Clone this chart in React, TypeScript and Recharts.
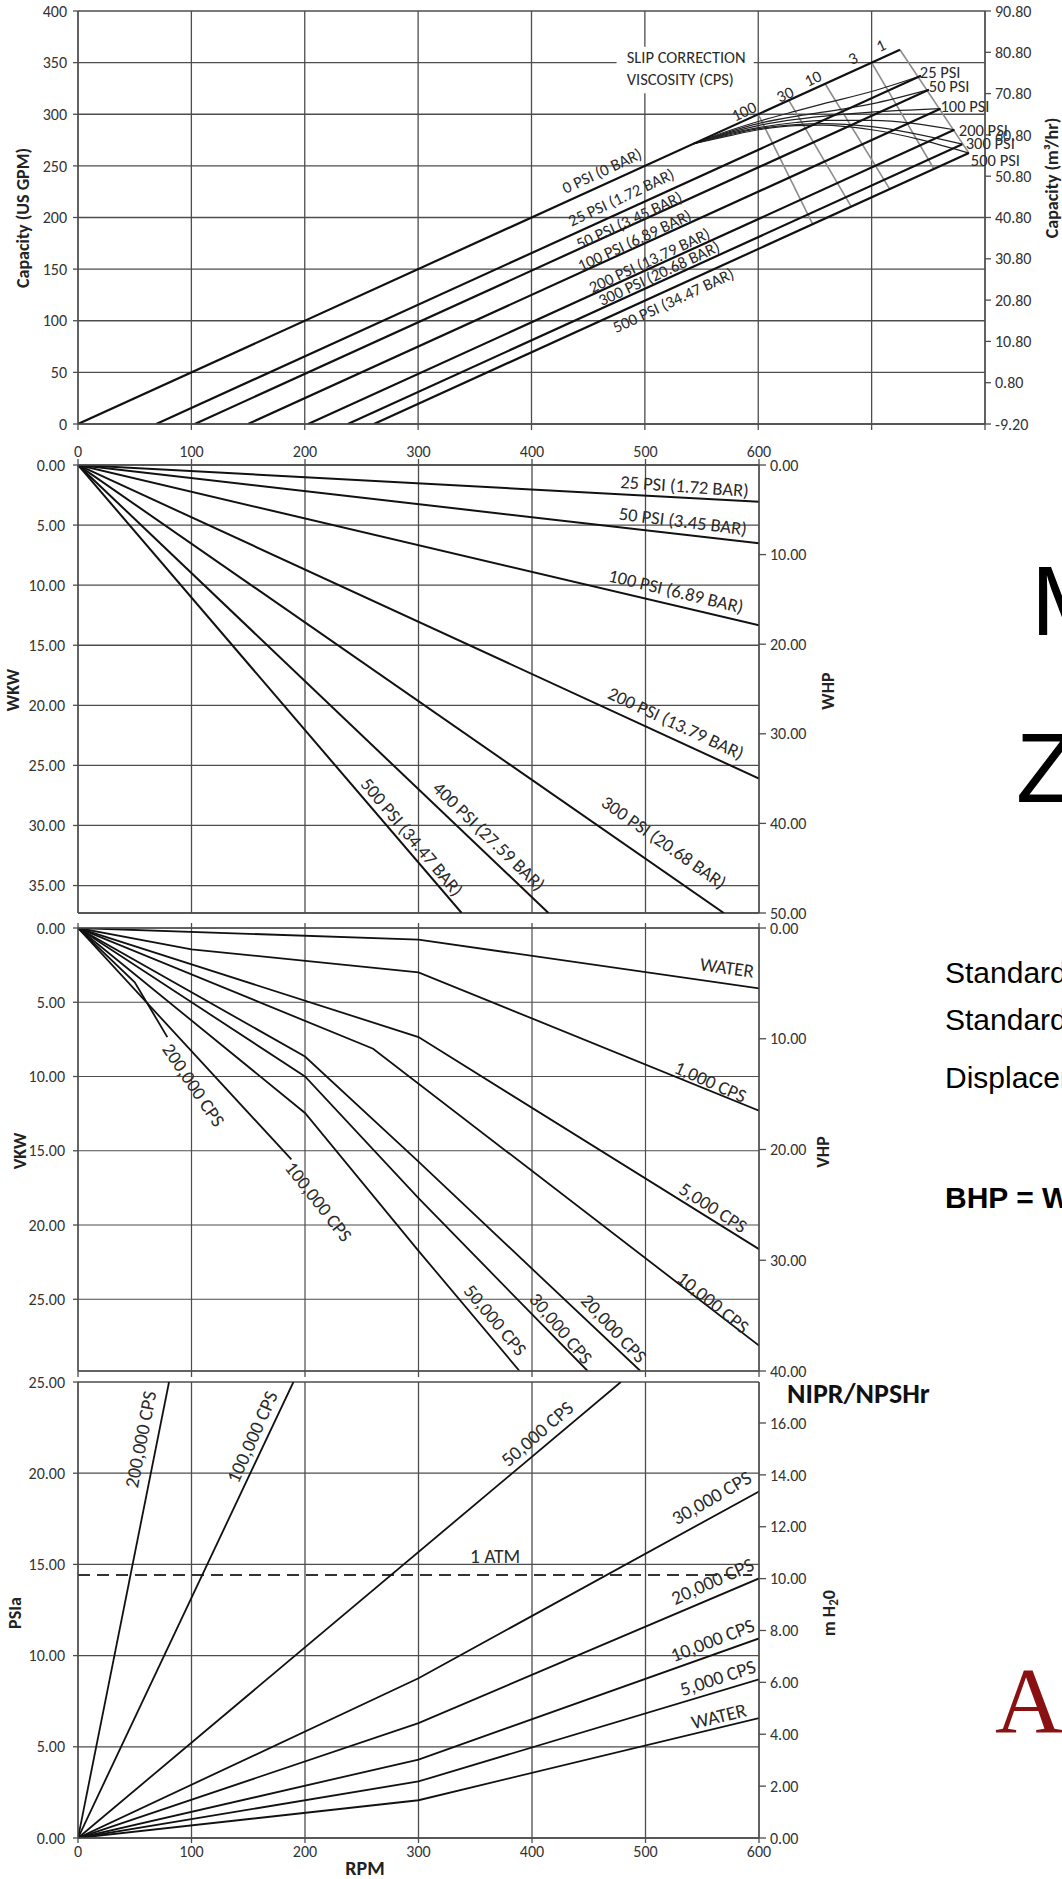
import React from 'react';
import { LineChart, Line, XAxis, YAxis, CartesianGrid, ReferenceDot, ReferenceArea, ReferenceLine } from 'recharts';

const FONT = "Carlito, Calibri, Lato, 'Open Sans', sans-serif";
const INK = '#111';
const GRID = '#4d4d4d';
const TXT = '#2a2a2a';

// shared RPM ticks
const rpmTicks = [0, 100, 200, 300, 400, 500, 600];
const capRpmTicks = [0, 100, 200, 300, 400, 500, 600, 700, 800];

// ---- capacity (US GPM) vs RPM
const gpmTicks = [0, 50, 100, 150, 200, 250, 300, 350, 400];
const m3hTicks = [-9.2, 0.8, 10.8, 20.8, 30.8, 40.8, 50.8, 60.8, 70.8, 80.8, 90.8];
const cap0 = [[0, 0], [725, 362.5]];
const cap25 = [[69, 0], [743.5, 337.3]];
const cap50 = [[103, 0], [750.5, 323.8]];
const cap100 = [[150, 0], [760.7, 305.4]];
const cap200 = [[203, 0], [773, 285]];
const cap300 = [[238, 0], [780, 271]];
const cap500 = [[261, 0], [785.8, 262.4]];
// slip correction curves
const slip25 = [[543, 271.5], [574, 284], [600, 293], [633, 303], [657, 310], [700, 322], [743.5, 337.3]];
const slip50 = [[543, 271.5], [574, 283], [600, 291], [633, 298], [657, 302], [700, 310], [750.5, 323.8]];
const slip100 = [[543, 271.5], [574, 282], [600, 289], [633, 295], [657, 298], [700, 302], [760.7, 305.4]];
const slip200 = [[543, 271.5], [574, 281], [600, 287], [633, 292], [657, 294], [700, 294], [773, 285]];
const slip300 = [[543, 271.5], [574, 280], [600, 286], [633, 290], [657, 291], [700, 288], [780, 271]];
const slip500 = [[543, 271.5], [574, 279], [600, 285], [633, 289], [657, 289.5], [700, 285], [785.8, 262.4]];
// viscosity lines (cps)
const visc100 = [[600, 300], [648, 193.5]];
const visc30 = [[627, 313.5], [682, 210.5]];
const visc10 = [[659, 329.5], [716, 227.5]];
const visc3 = [[700, 350], [755, 247]];
const visc1 = [[725, 362.5], [785.8, 262.4]];

// ---- water power (WHP)
const wkwTicks = [0, 5, 10, 15, 20, 25, 30, 35];
const whpTicks = [0, 10, 20, 30, 40, 50];
const whp25 = [[0, 0], [600, 4.09]];
const whp50 = [[0, 0], [600, 8.74]];
const whp100 = [[0, 0], [600, 17.9]];
const whp200 = [[0, 0], [600, 35.0]];
const whp300 = [[0, 0], [569, 50]];
const whp400 = [[0, 0], [414.5, 50]];
const whp500 = [[0, 0], [338, 50]];

// ---- viscous power (VHP)
const vkwTicks = [0, 5, 10, 15, 20, 25];
const vhpTicks = [0, 10, 20, 30, 40];
const vWater = [[0, 0], [300, 1.05], [600, 5.45]];
const v1000 = [[0, 0], [100, 1.93], [300, 4.0], [600, 16.5]];
const v5000 = [[0, 0], [300, 9.85], [600, 29.0]];
const v10000 = [[0, 0], [260, 10.9], [600, 37.7]];
const v20000 = [[0, 0], [200, 11.6], [300, 21.1], [495.5, 40]];
const v30000 = [[0, 0], [200, 13.4], [300, 24.4], [449, 40]];
const v50000 = [[0, 0], [200, 16.7], [300, 29.15], [389, 40]];
const v100000 = [[0, 0], [188, 20.9]];
const v200000 = [[0, 0], [50, 4.9], [78.7, 9.85]];

// ---- NIPR / NPSHr
const psiaTicks = [0, 5, 10, 15, 20, 25];
const mh2oTicks = [0, 2, 4, 6, 8, 10, 12, 14, 16];
const nWater = [[0, 0], [300, 2.07], [600, 6.57]];
const n5000 = [[0, 0], [300, 3.1], [600, 8.7]];
const n10000 = [[0, 0], [300, 4.3], [600, 10.94]];
const n20000 = [[0, 0], [300, 6.3], [600, 14.23]];
const n30000 = [[0, 0], [300, 8.76], [600, 19.0]];
const n50000 = [[0, 0], [478.3, 25]];
const n100000 = [[0, 0], [189.8, 25]];
const n200000 = [[0, 0], [80.2, 25]];
const atm = [[0, 14.42], [594, 14.42]];

// label anchors (data coordinates)
type Tag = { t: string; x: number; y: number; a: number; anchor?: string };
const capTags: Tag[] = [
  { t: '0 PSI (0 BAR)', x: 462, y: 245.5, a: -25 },
  { t: '25 PSI (1.72 BAR)', x: 479, y: 219.9, a: -25 },
  { t: '50 PSI (3.45 BAR)', x: 486, y: 197.6, a: -25 },
  { t: '100 PSI (6.89 BAR)', x: 490.7, y: 178.2, a: -25 },
  { t: '200 PSI (13.79 BAR)', x: 503.9, y: 158.8, a: -25 },
  { t: '300 PSI (20.68 BAR)', x: 512.3, y: 146.2, a: -25 },
  { t: '500 PSI (34.47 BAR)', x: 524.9, y: 120.1, a: -25 },
];
const slipTags: Tag[] = [
  { t: 'SLIP CORRECTION', x: 484, y: 355.4, a: 0, anchor: 'start' },
  { t: 'VISCOSITY (CPS)', x: 484, y: 334.1, a: 0, anchor: 'start' },
  { t: '100', x: 587.3, y: 303.2, a: -25 },
  { t: '30', x: 623.5, y: 319.6, a: -25 },
  { t: '10', x: 648.1, y: 335.1, a: -25 },
  { t: '3', x: 683.4, y: 354.5, a: -25 },
  { t: '1', x: 708.1, y: 367.1, a: -25 },
  { t: '25 PSI', x: 742.5, y: 340.9, a: 0, anchor: 'start' },
  { t: '50 PSI', x: 750.4, y: 327.4, a: 0, anchor: 'start' },
  { t: '100 PSI', x: 760.7, y: 308, a: 0, anchor: 'start' },
  { t: '200 PSI', x: 776.9, y: 284.7, a: 0, anchor: 'start' },
  { t: '300 PSI', x: 783, y: 272.2, a: 0, anchor: 'start' },
  { t: '500 PSI', x: 787.5, y: 255.7, a: 0, anchor: 'start' },
];
const whpTags: Tag[] = [
  { t: '25 PSI (1.72 BAR)', x: 534.4, y: 2.34, a: 4 },
  { t: '50 PSI (3.45 BAR)', x: 533, y: 6.25, a: 7 },
  { t: '100 PSI (6.89 BAR)', x: 526.9, y: 14.06, a: 13.5 },
  { t: '200 PSI (13.79 BAR)', x: 526.9, y: 28.8, a: 25 },
  { t: '300 PSI (20.68 BAR)', x: 516.3, y: 42.1, a: 35 },
  { t: '400 PSI (27.59 BAR)', x: 362.1, y: 41.4, a: 44 },
  { t: '500 PSI (34.47 BAR)', x: 294.3, y: 41.5, a: 50 },
];
const vhpTags: Tag[] = [
  { t: 'WATER', x: 571.8, y: 3.57, a: 8 },
  { t: '1,000 CPS', x: 557.3, y: 13.88, a: 24 },
  { t: '5,000 CPS', x: 559.5, y: 25.24, a: 33 },
  { t: '10,000 CPS', x: 559.5, y: 33.8, a: 39 },
  { t: '20,000 CPS', x: 472.1, y: 36.15, a: 47 },
  { t: '30,000 CPS', x: 425.5, y: 36.15, a: 50 },
  { t: '50,000 CPS', x: 367.7, y: 35.4, a: 50 },
  { t: '100,000 CPS', x: 212, y: 24.7, a: 52 },
  { t: '200,000 CPS', x: 101.8, y: 14.18, a: 56 },
];
const niprTags: Tag[] = [
  { t: '200,000 CPS', x: 54.9, y: 21.86, a: -79 },
  { t: '100,000 CPS', x: 153.2, y: 22.0, a: -66 },
  { t: '50,000 CPS', x: 404.4, y: 22.18, a: -41 },
  { t: '30,000 CPS', x: 558.1, y: 18.67, a: -30 },
  { t: '20,000 CPS', x: 558.9, y: 14.1, a: -24 },
  { t: '10,000 CPS', x: 558.9, y: 10.86, a: -21 },
  { t: '5,000 CPS', x: 563.6, y: 8.8, a: -18 },
  { t: 'WATER', x: 564.5, y: 6.7, a: -14 },
  { t: '1 ATM', x: 367.4, y: 15.46, a: 0 },
];

const pts = (a: number[][]) => a.map(([x, y]) => ({ x, y }));

function series(key: string, d: number[][], xId: string, yId: string, color = INK, w = 2, kind: any = 'linear', dash?: string) {
  return (
    <Line key={key} xAxisId={xId} yAxisId={yId} data={pts(d)} dataKey="y" type={kind} stroke={color}
      strokeWidth={w} strokeDasharray={dash} dot={false} activeDot={false} isAnimationActive={false} />
  );
}

function tagContent(t: string, a: number, size: number, anchor: string) {
  return (p: any) => {
    const vb = p.viewBox || {};
    const cx = (vb.x || 0) + (vb.width || 0) / 2;
    const cy = (vb.y || 0) + (vb.height || 0) / 2;
    return (
      <text x={cx} y={cy} textAnchor={anchor} dominantBaseline="central" fontSize={size} fontFamily={FONT}
        fill={TXT} transform={`rotate(${a} ${cx} ${cy})`}>{t}</text>
    );
  };
}

function tags(list: Tag[], xId: string, yId: string, size: number, prefix: string) {
  return list.map((g, i) => (
    <ReferenceDot key={`${prefix}-${i}`} x={g.x} y={g.y} r={0} xAxisId={xId} yAxisId={yId} ifOverflow="visible"
      fill="none" stroke="none" label={{ content: tagContent(g.t, g.a, size, g.anchor || 'middle') }} />
  ));
}

const tickStyle = { fontSize: 16, fill: '#333', fontFamily: FONT };
const axisStyle = { stroke: GRID, strokeWidth: 1.3 };
const fix2 = (v: number) => v.toFixed(2);

const App: React.FC = () => {
  return (
    <div style={{ position: 'absolute', left: 0, top: 0, width: 1062, height: 1879, overflow: 'hidden', background: '#fff' }}>
      {/* capacity */}
      <div style={{ position: 'absolute', left: 0, top: 0 }}>
        <LineChart width={1062} height={444} margin={{ top: 11, right: 0, bottom: 0, left: 0 }}>
          <CartesianGrid xAxisId="x" yAxisId="left" stroke={GRID} strokeWidth={1.3} />
          <XAxis xAxisId="x" dataKey="x" type="number" domain={[0, 800]} ticks={capRpmTicks} allowDataOverflow
            height={20} tickSize={6} tickFormatter={() => ''} axisLine={axisStyle} tickLine={axisStyle} interval={0} />
          <YAxis yAxisId="left" type="number" domain={[0, 400]} ticks={gpmTicks} width={78} tickSize={5} tickMargin={6}
            tick={tickStyle} axisLine={axisStyle} tickLine={axisStyle} interval={0} allowDataOverflow />
          <YAxis yAxisId="right" orientation="right" type="number" domain={[-9.2, 90.8]} ticks={m3hTicks} width={77}
            tickSize={6} tickMargin={4} tickFormatter={fix2} tick={tickStyle} axisLine={axisStyle} tickLine={axisStyle}
            interval={0} allowDataOverflow />
          <ReferenceArea xAxisId="x" yAxisId="left" x1={475} x2={596} y1={320.3} y2={365.4} fill="#fff" fillOpacity={1}
            stroke="none" ifOverflow="visible" />
          {series('v100', visc100, 'x', 'left', '#8c8c8c', 1.6)}
          {series('v30', visc30, 'x', 'left', '#8c8c8c', 1.6)}
          {series('v10', visc10, 'x', 'left', '#8c8c8c', 1.6)}
          {series('v3', visc3, 'x', 'left', '#8c8c8c', 1.6)}
          {series('v1', visc1, 'x', 'left', '#8c8c8c', 1.6)}
          {series('s25', slip25, 'x', 'left', '#222', 1.2, 'monotone')}
          {series('s50', slip50, 'x', 'left', '#222', 1.2, 'monotone')}
          {series('s100', slip100, 'x', 'left', '#222', 1.2, 'monotone')}
          {series('s200', slip200, 'x', 'left', '#222', 1.2, 'monotone')}
          {series('s300', slip300, 'x', 'left', '#222', 1.2, 'monotone')}
          {series('s500', slip500, 'x', 'left', '#222', 1.2, 'monotone')}
          {series('c0', cap0, 'x', 'left', INK, 2.2)}
          {series('c25', cap25, 'x', 'left', INK, 2.2)}
          {series('c50', cap50, 'x', 'left', INK, 2.2)}
          {series('c100', cap100, 'x', 'left', INK, 2.2)}
          {series('c200', cap200, 'x', 'left', INK, 2.2)}
          {series('c300', cap300, 'x', 'left', INK, 2.2)}
          {series('c500', cap500, 'x', 'left', INK, 2.2)}
          {tags(capTags, 'x', 'left', 16.5, 'ct')}
          {tags(slipTags, 'x', 'left', 16.5, 'st')}
        </LineChart>
      </div>

      {/* WHP */}
      <div style={{ position: 'absolute', left: 0, top: 430 }}>
        <LineChart width={1062} height={497} margin={{ top: 10, right: 223, bottom: 14, left: 0 }}>
          <CartesianGrid xAxisId="t" yAxisId="left" stroke={GRID} strokeWidth={1.3} />
          <XAxis xAxisId="t" orientation="top" dataKey="x" type="number" domain={[0, 600]} ticks={rpmTicks} allowDataOverflow
            height={25} tickSize={6} tickMargin={2} tick={tickStyle} axisLine={axisStyle} tickLine={axisStyle} interval={0} />
          <YAxis yAxisId="left" type="number" reversed domain={[0, 37.285]} ticks={wkwTicks} width={78} tickSize={5}
            tickMargin={8} tickFormatter={fix2} tick={tickStyle} axisLine={axisStyle} tickLine={axisStyle} interval={0} allowDataOverflow />
          <YAxis yAxisId="right" orientation="right" type="number" reversed domain={[0, 50]} ticks={whpTicks} width={80}
            tickSize={7} tickMargin={4} tickFormatter={fix2} tick={tickStyle} axisLine={axisStyle} tickLine={axisStyle}
            interval={0} allowDataOverflow />
          <ReferenceLine xAxisId="t" yAxisId="right" y={50} stroke={GRID} strokeWidth={1.5} />
          {series('w25', whp25, 't', 'right')}
          {series('w50', whp50, 't', 'right')}
          {series('w100', whp100, 't', 'right')}
          {series('w200', whp200, 't', 'right')}
          {series('w300', whp300, 't', 'right')}
          {series('w400', whp400, 't', 'right')}
          {series('w500', whp500, 't', 'right')}
          {tags(whpTags, 't', 'right', 18.5, 'wt')}
        </LineChart>
      </div>

      {/* VHP */}
      <div style={{ position: 'absolute', left: 0, top: 915 }}>
        <LineChart width={1062} height={472} margin={{ top: 3, right: 223, bottom: 8, left: 0 }}>
          <CartesianGrid xAxisId="b" yAxisId="left" stroke={GRID} strokeWidth={1.2} />
          <XAxis xAxisId="t" orientation="top" dataKey="x" type="number" domain={[0, 600]} ticks={rpmTicks} allowDataOverflow
            height={10} tickSize={5} tickFormatter={() => ''} axisLine={axisStyle} tickLine={axisStyle} interval={0} />
          <XAxis xAxisId="b" dataKey="x" type="number" domain={[0, 600]} ticks={rpmTicks} allowDataOverflow
            height={8} tickSize={6} tickFormatter={() => ''} axisLine={axisStyle} tickLine={axisStyle} interval={0} />
          <YAxis yAxisId="left" type="number" reversed domain={[0, 29.83]} ticks={vkwTicks} width={78} tickSize={5}
            tickMargin={8} tickFormatter={fix2} tick={tickStyle} axisLine={axisStyle} tickLine={axisStyle} interval={0} allowDataOverflow />
          <YAxis yAxisId="right" orientation="right" type="number" reversed domain={[0, 40]} ticks={vhpTicks} width={80}
            tickSize={7} tickMargin={4} tickFormatter={fix2} tick={tickStyle} axisLine={axisStyle} tickLine={axisStyle}
            interval={0} allowDataOverflow />
          {series('vw', vWater, 'b', 'right', INK, 1.8)}
          {series('v1k', v1000, 'b', 'right', INK, 1.8)}
          {series('v5k', v5000, 'b', 'right', INK, 1.8)}
          {series('v10k', v10000, 'b', 'right', INK, 1.8)}
          {series('v20k', v20000, 'b', 'right', INK, 1.8)}
          {series('v30k', v30000, 'b', 'right', INK, 1.8)}
          {series('v50k', v50000, 'b', 'right', INK, 1.8)}
          {series('v100k', v100000, 'b', 'right', INK, 1.8)}
          {series('v200k', v200000, 'b', 'right', INK, 1.8)}
          {tags(vhpTags, 'b', 'right', 19, 'vt')}
        </LineChart>
      </div>

      {/* NIPR / NPSHr */}
      <div style={{ position: 'absolute', left: 0, top: 1363 }}>
        <LineChart width={1062} height={505} margin={{ top: 19, right: 223, bottom: 0, left: 0 }}>
          <CartesianGrid xAxisId="b" yAxisId="left" stroke={GRID} strokeWidth={1.3} />
          <XAxis xAxisId="b" dataKey="x" type="number" domain={[0, 600]} ticks={rpmTicks} allowDataOverflow
            height={30} tickSize={5} tickMargin={3} tick={tickStyle} axisLine={axisStyle} tickLine={axisStyle} interval={0} />
          <YAxis yAxisId="left" type="number" domain={[0, 25]} ticks={psiaTicks} width={78} tickSize={5} tickMargin={8}
            tickFormatter={fix2} tick={tickStyle} axisLine={axisStyle} tickLine={axisStyle} interval={0} allowDataOverflow />
          <YAxis yAxisId="right" orientation="right" type="number" domain={[0, 17.58]} ticks={mh2oTicks} width={80}
            tickSize={7} tickMargin={4} tickFormatter={fix2} tick={tickStyle} axisLine={axisStyle} tickLine={axisStyle}
            interval={0} allowDataOverflow />
          {series('atm', atm, 'b', 'left', '#333', 2, 'linear', '12 7')}
          {series('nw', nWater, 'b', 'left', INK, 1.8)}
          {series('n5k', n5000, 'b', 'left', INK, 1.8)}
          {series('n10k', n10000, 'b', 'left', INK, 1.8)}
          {series('n20k', n20000, 'b', 'left', INK, 1.8)}
          {series('n30k', n30000, 'b', 'left', INK, 1.8)}
          {series('n50k', n50000, 'b', 'left', INK, 1.8)}
          {series('n100k', n100000, 'b', 'left', INK, 1.8)}
          {series('n200k', n200000, 'b', 'left', INK, 1.8)}
          {tags(niprTags, 'b', 'left', 19.5, 'nt')}
        </LineChart>
      </div>

      {/* titles and side text */}
      <svg width={1062} height={1879} style={{ position: 'absolute', left: 0, top: 0, pointerEvents: 'none' }}>
        <g fontFamily={FONT} fontWeight={700} fontSize={18} fill="#222" textAnchor="middle" dominantBaseline="central">
          <text transform="translate(23,218) rotate(-90)">Capacity (US GPM)</text>
          <text transform="translate(1052,178) rotate(-90)">Capacity (m³/hr)</text>
          <text transform="translate(13,690) rotate(-90)">WKW</text>
          <text transform="translate(828,691) rotate(-90)">WHP</text>
          <text transform="translate(20,1151) rotate(-90)">VKW</text>
          <text transform="translate(823,1152) rotate(-90)">VHP</text>
          <text transform="translate(15,1613) rotate(-90)">PSIa</text>
          <text transform="translate(829,1613) rotate(-90)">m H<tspan fontSize={13} dy={4}>2</tspan><tspan dy={-4}>0</tspan></text>
          <text x={365} y={1868} fontSize={20}>RPM</text>
        </g>
        <text x={787} y={1403} fontFamily={FONT} fontWeight={700} fontSize={28} fill="#111">NIPR/NPSHr</text>
        <g fontFamily="'Liberation Sans', Arial, sans-serif" fill="#000">
          <text x={1031} y={635} fontSize={98}>M</text>
          <text x={1016} y={802} fontSize={98}>Z</text>
          <text x={945} y={983} fontSize={30}>Standard</text>
          <text x={945} y={1030} fontSize={30}>Standard</text>
          <text x={945} y={1088} fontSize={30}>Displacement</text>
          <text x={945} y={1208} fontSize={30} fontWeight={700}>BHP = WHP + VHP</text>
        </g>
        <text x={995} y={1732} fontFamily="'Liberation Serif', 'Times New Roman', serif" fontSize={94} fill="#8a1111">A</text>
      </svg>
    </div>
  );
};

export default App;
